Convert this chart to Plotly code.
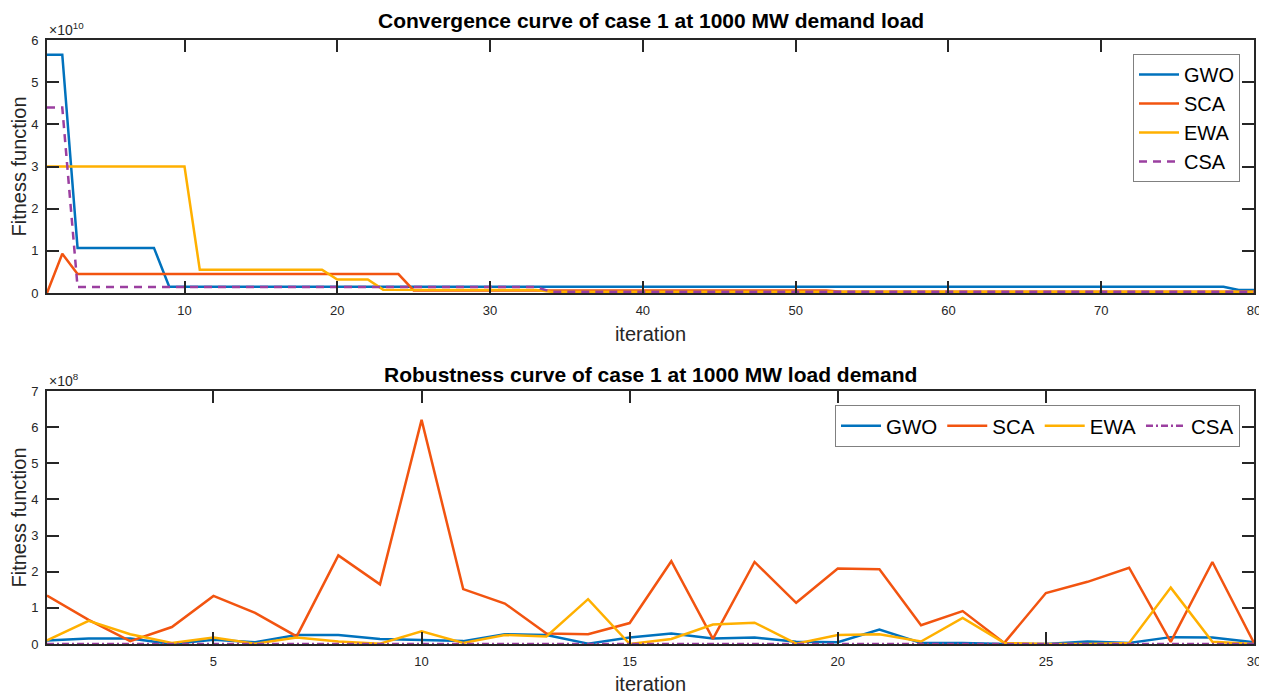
import plotly.graph_objects as go

# ---------------- Data ----------------
# Top chart: convergence (values in units of 1e10), breakpoints of step curves
conv_gwo_x = [1, 2, 3, 8, 9, 78, 79, 80]
conv_gwo_y = [5.65, 5.65, 1.07, 1.07, 0.15, 0.15, 0.07, 0.07]
conv_sca_x = [1, 2, 3, 24, 25, 52, 53, 80]
conv_sca_y = [0.0, 0.93, 0.45, 0.45, 0.06, 0.06, 0.03, 0.03]
conv_ewa_x = [1, 10, 11, 19, 20, 22, 23, 33, 34, 80]
conv_ewa_y = [3.0, 3.0, 0.55, 0.55, 0.32, 0.32, 0.08, 0.07, 0.03, 0.03]
conv_csa_x = [1, 2, 3, 33, 34, 80]
conv_csa_y = [4.4, 4.4, 0.14, 0.14, 0.03, 0.03]

# Bottom chart: robustness over 30 runs (values in units of 1e8)
runs = list(range(1, 31))
rob_gwo = [0.10, 0.15, 0.15, 0.00, 0.12, 0.05, 0.25, 0.25, 0.14, 0.10,
           0.08, 0.27, 0.25, 0.01, 0.18, 0.29, 0.15, 0.18, 0.06, 0.05,
           0.40, 0.03, 0.03, 0.00, 0.00, 0.07, 0.03, 0.19, 0.18, 0.05]
rob_sca = [1.34, 0.67, 0.08, 0.47, 1.33, 0.86, 0.21, 2.45, 1.65, 6.20,
           1.52, 1.12, 0.29, 0.27, 0.58, 2.29, 0.14, 2.27, 1.14, 2.09,
           2.07, 0.52, 0.91, 0.03, 1.41, 1.72, 2.11, 0.06, 2.27, 0.03]
rob_ewa = [0.10, 0.64, 0.27, 0.03, 0.18, 0.01, 0.18, 0.07, 0.01, 0.35,
           0.03, 0.25, 0.21, 1.24, 0.00, 0.14, 0.54, 0.59, 0.01, 0.25,
           0.27, 0.07, 0.72, 0.03, 0.00, 0.00, 0.03, 1.56, 0.06, 0.00]
rob_csa = [0.0] * 30

names = ["GWO", "SCA", "EWA", "CSA"]
colors = ["#0072BD", "#F25410", "#FFB000", "#9B3FA0"]

top_title = "Convergence curve of case 1 at 1000 MW demand load"
bottom_title = "Robustness curve of case 1 at 1000 MW load demand"
top_exp = "×10<sup>10</sup>"
bottom_exp = "×10<sup>8</sup>"

# ---------------- Figure ----------------
# The page body has an 8px margin, so the figure is sized/positioned to compensate.
OFF = 8
W, H = 1267 - OFF, 695 - OFF
fig = go.Figure()

LW = 2.5
top_series = [(conv_gwo_x, conv_gwo_y), (conv_sca_x, conv_sca_y),
              (conv_ewa_x, conv_ewa_y), (conv_csa_x, conv_csa_y)]
for i, (xs, ys) in enumerate(top_series):
    dash = "8px,6px" if names[i] == "CSA" else "solid"
    fig.add_trace(go.Scatter(x=xs, y=ys, mode="lines", name=names[i],
                             line=dict(color=colors[i], width=LW, dash=dash),
                             xaxis="x", yaxis="y", legend="legend"))

bot_series = [rob_gwo, rob_sca, rob_ewa, rob_csa]
for i, ys in enumerate(bot_series):
    dash = "7px,3px,2px,3px" if names[i] == "CSA" else "solid"
    fig.add_trace(go.Scatter(x=runs, y=ys, mode="lines", name=names[i],
                             line=dict(color=colors[i], width=LW, dash=dash),
                             xaxis="x2", yaxis="y2", legend="legend2"))

def px_x(p):
    return (p - OFF) / W

def px_y(p):
    return 1 - (p - OFF) / H

x0, x1 = px_x(47), px_x(1254)
top_y0, top_y1 = px_y(293), px_y(40)
bot_y0, bot_y1 = px_y(644), px_y(391)

FONT = "Arial, Liberation Sans, sans-serif"
tickfont = dict(family=FONT, size=13, color="#262626")
titlefont = dict(family=FONT, size=20, color="#262626")

common_axis = dict(showline=True, linecolor="#262626", linewidth=2, mirror="ticks",
                   ticks="inside", ticklen=12, tickwidth=1.5, tickcolor="#262626",
                   showgrid=False, zeroline=False, tickfont=tickfont,
                   ticklabelstandoff=4, automargin=False)

fig.update_layout(
    width=W, height=H,
    margin=dict(l=0, r=0, t=0, b=0, autoexpand=False),
    paper_bgcolor="white", plot_bgcolor="white",
    xaxis=dict(domain=[x0, x1], range=[1, 80], tickvals=[10, 20, 30, 40, 50, 60, 70, 80],
               anchor="y", title=dict(text="iteration", font=titlefont, standoff=10),
               **common_axis),
    yaxis=dict(domain=[top_y0, top_y1], range=[0, 6], dtick=1, anchor="x",
               title=dict(text="Fitness function", font=titlefont, standoff=1),
               **common_axis),
    xaxis2=dict(domain=[x0, x1], range=[1, 30], tickvals=[5, 10, 15, 20, 25, 30],
                anchor="y2", title=dict(text="iteration", font=titlefont, standoff=10),
                **common_axis),
    yaxis2=dict(domain=[bot_y0, bot_y1], range=[0, 7], dtick=1, anchor="x2",
                title=dict(text="Fitness function", font=titlefont, standoff=1),
                **common_axis),
    legend=dict(x=px_x(1240), y=px_y(54), xanchor="right", yanchor="top",
                bgcolor="white", bordercolor="#808080", borderwidth=1,
                font=dict(family=FONT, size=20, color="black"),
                tracegroupgap=0, itemwidth=40),
    legend2=dict(x=px_x(1240), y=px_y(405), xanchor="right", yanchor="top",
                 orientation="h",
                 bgcolor="white", bordercolor="#808080", borderwidth=1,
                 font=dict(family=FONT, size=20.5, color="black"),
                 itemwidth=40),
    showlegend=True,
)

ann_font_title = dict(family=FONT, size=21, color="black")
fig.add_annotation(text="<b>" + top_title + "</b>", x=(x0 + x1) / 2, y=px_y(20),
                   xref="paper", yref="paper", showarrow=False, font=ann_font_title,
                   xanchor="center", yanchor="middle")
fig.add_annotation(text="<b>" + bottom_title + "</b>", x=(x0 + x1) / 2, y=px_y(375),
                   xref="paper", yref="paper", showarrow=False, font=ann_font_title,
                   xanchor="center", yanchor="middle")
exp_font = dict(family=FONT, size=14, color="#262626")
fig.add_annotation(text=top_exp, x=x0, y=top_y1, xref="paper", yref="paper",
                   showarrow=False, font=exp_font, xanchor="left", yanchor="bottom")
fig.add_annotation(text=bottom_exp, x=x0, y=bot_y1, xref="paper", yref="paper",
                   showarrow=False, font=exp_font, xanchor="left", yanchor="bottom")

fig.write_html("out.html")
